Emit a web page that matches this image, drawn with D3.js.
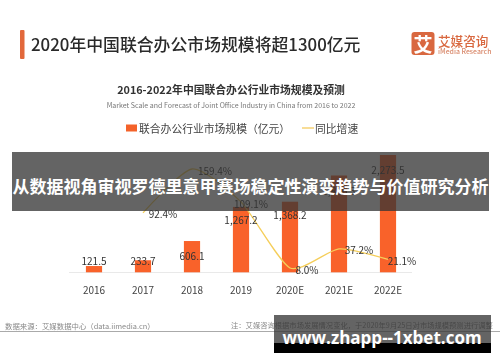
<!DOCTYPE html>
<html><head><meta charset="utf-8">
<script src="https://cdn.jsdelivr.net/npm/d3@7"></script>
<style>html,body{margin:0;padding:0;background:#fff;overflow:hidden}svg{display:block}</style>
</head><body><svg id="c" width="500" height="362"></svg>
<script>
const categories=["2016","2017","2018","2019","2020E","2021E","2022E"];
const marketValues=[121.5,233.7,606.1,1267.2,1368.2,1876.3,2273.5];
const marketLabels=["121.5","233.7","606.1","1,267.2","1,368.2","1,876.3","2,273.5"];
const growthCategories=["2017","2018","2019","2020E","2021E","2022E"];
const growthValues=[92.4,159.4,109.1,8.0,37.2,21.1];
const growthLabelShift=[20,23,10,17,20,14];
const barLabelShift=[-6,0,14,13,13,15,14];
const F='"Noto Sans CJK SC","Noto Sans",sans-serif';
const svg=d3.select("#c");
svg.append("defs").append("filter").attr("id","soft").attr("x","-5%").attr("y","-5%").attr("width","110%").attr("height","110%")
  .append("feGaussianBlur").attr("stdDeviation",0.45);
const root=svg.append("g").attr("filter","url(#soft)");
svg.insert("rect",":first-child").attr("width",500).attr("height",362).attr("fill","#fff");
function txt(p,x,y,s,size,fill,anchor="start",weight=400){
  return p.append("text").attr("x",x).attr("y",y).attr("dominant-baseline","central").attr("text-anchor",anchor)
    .attr("font-family",F).attr("font-size",size).attr("font-weight",weight).attr("fill",fill).text(s);
}
// header
root.append("rect").attr("x",20).attr("y",30).attr("width",4.5).attr("height",29).attr("rx",1).attr("fill","#E2673A");
txt(root,31,43,"2020年中国联合办公市场规模将超1300亿元",16.85,"#2b2b2b","start",500);
root.append("rect").attr("x",411.5).attr("y",32).attr("width",23).attr("height",23).attr("rx",3).attr("fill","#D9683F");
txt(root,423,43,"艾",19,"#fff","middle",700);
txt(root,438,40,"艾媒咨询",12.6,"#D9683F","start",500);
txt(root,438,51,"iMedia Research",6.9,"#D9896B","start",500);
txt(root,231,89,"2016-2022年中国联合办公行业市场规模及预测",10.8,"#333","middle",700);
txt(root,231,105,"Market Scale and Forecast of Joint Office Industry in China from 2016 to 2022",7,"#777","middle");
// legend
root.append("rect").attr("x",126).attr("y",124.5).attr("width",11).attr("height",7).attr("fill","#F4622B");
txt(root,139,127.5,"联合办公行业市场规模（亿元）",10.8,"#444");
root.append("line").attr("x1",302).attr("x2",314).attr("y1",128).attr("y2",128).attr("stroke","#F5CE6A").attr("stroke-width",1.4);
txt(root,315,127.5,"同比增速",10.8,"#444");
// chart
const x=d3.scaleBand().domain(categories).range([69.5,412.5]).paddingInner(0.67).paddingOuter(0.335);
const y=d3.scaleLinear().domain([0,2273.5]).range([272.3,155]);
const yG=d3.scaleLinear().domain([8,159.4]).range([268,169]);
const cx=c=>x(c)+x.bandwidth()/2;
root.append("line").attr("x1",69).attr("x2",412).attr("y1",272.5).attr("y2",272.5).attr("stroke","#e9e9e9");
root.selectAll("rect.b").data(categories).join("rect").attr("class","b")
  .attr("x",c=>x(c)).attr("width",x.bandwidth())
  .attr("y",(c,i)=>y(marketValues[i])).attr("height",(c,i)=>y(0)-y(marketValues[i])).attr("fill","#F9622B");
root.append("path").attr("fill","none").attr("stroke","#F5CE5A").attr("stroke-width",1.3)
  .attr("d",d3.line().x(d=>cx(d[0])).y(d=>yG(d[1])).curve(d3.curveCardinal.tension(0.35))(growthCategories.map((c,i)=>[c,growthValues[i]])));
categories.forEach((c,i)=>{
  txt(root,cx(c),y(marketValues[i])+barLabelShift[i],marketLabels[i],10,"#333","middle");
  txt(root,cx(c),289,c,10,"#444","middle");
});
growthCategories.forEach((c,i)=>{
  txt(root,cx(c)+growthLabelShift[i],yG(growthValues[i])+(i==2?2:1),growthValues[i].toFixed(1)+"%",10,"#333","middle");
});
// footer
txt(root,5,325,"数据来源：艾媒数据中心（data.iimedia.cn）",7.4,"#888");
txt(root,231,325,"注：艾媒咨询根据市场发展情况变化，于2020年9月25日对市场规模预测进行调整",7.3,"#888");
root.append("rect").attr("x",0).attr("y",331).attr("width",500).attr("height",1).attr("fill","#aaa");
// overlays
svg.append("rect").attr("x",12).attr("y",152).attr("width",477).attr("height",59).attr("fill","#333").attr("fill-opacity",0.76);
txt(svg,250.5,185,"从数据视角审视罗德里意甲赛场稳定性演变趋势与价值研究分析",17,"#fff","middle",700);
svg.append("rect").attr("x",274).attr("y",315).attr("width",217).attr("height",28).attr("fill","#333").attr("fill-opacity",0.76);
svg.append("rect").attr("x",274).attr("y",343).attr("width",217).attr("height",10).attr("fill","#000");
txt(svg,382,337,"www.zhapp--1xbet.com",17,"#fff","middle",700).attr("font-family",'"Open Sans","DejaVu Sans",sans-serif');
</script></body></html>
